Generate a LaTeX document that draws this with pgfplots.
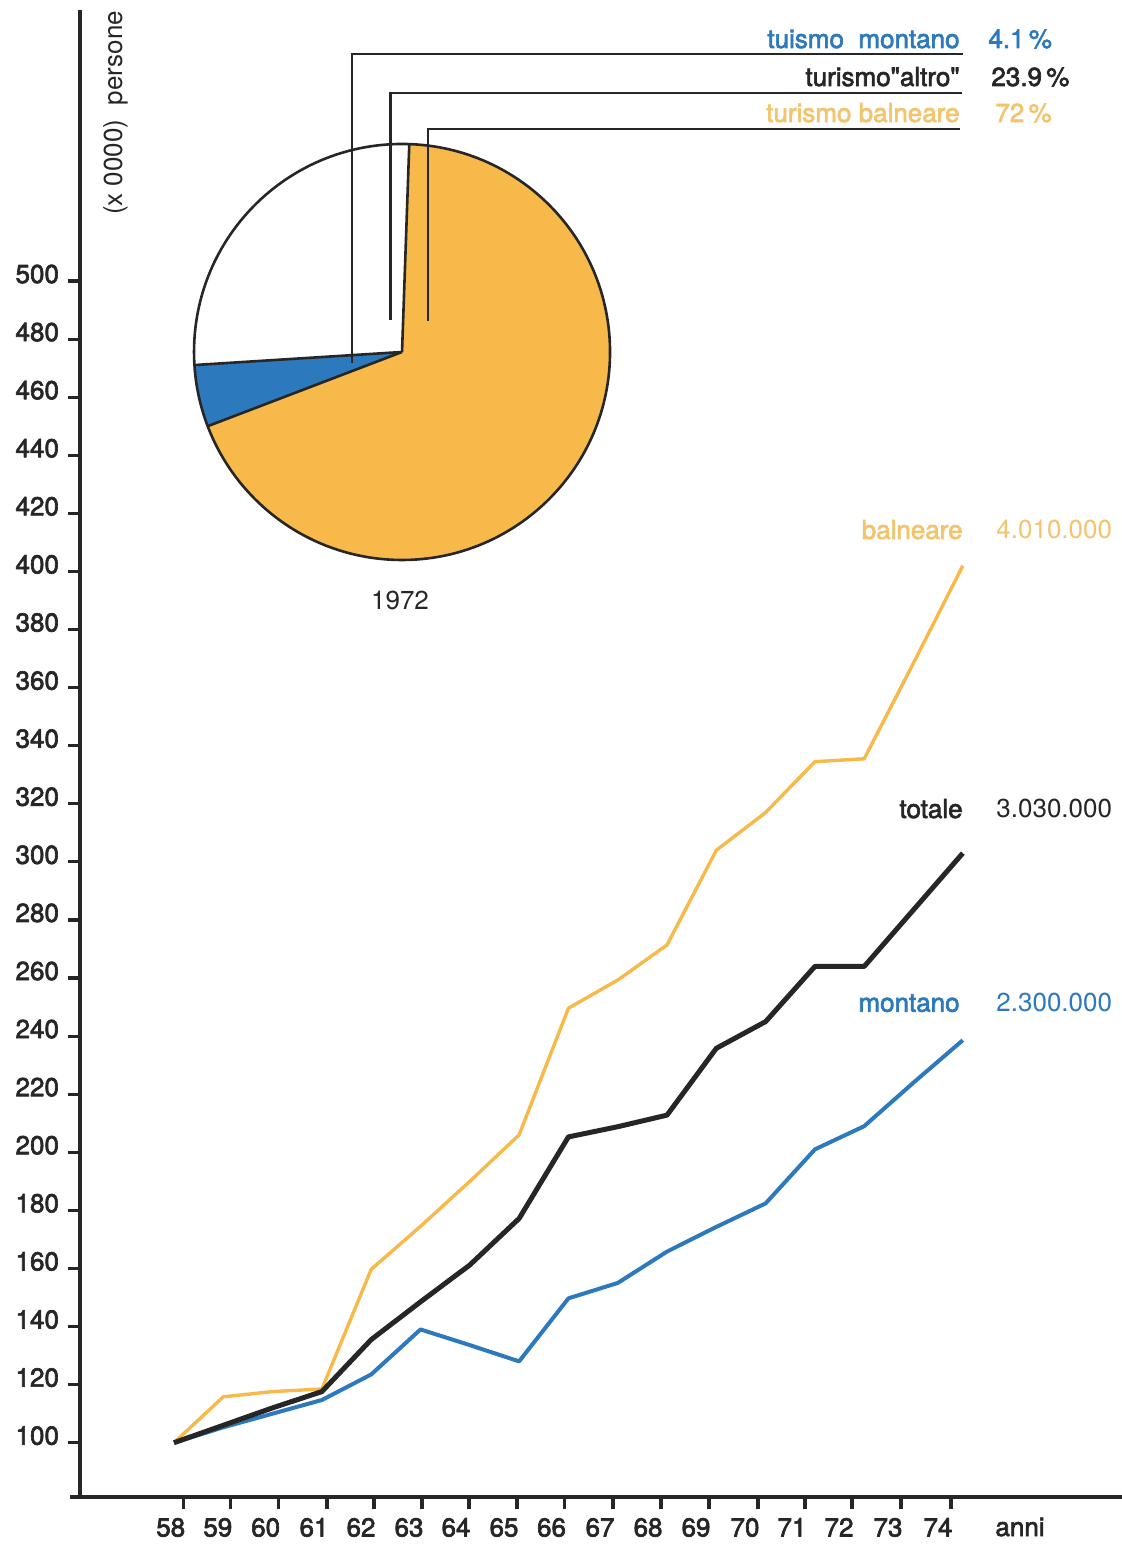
\documentclass[border=0pt]{standalone}
\usepackage{fontspec}
\setmainfont{TeX Gyre Heros}
\newfontfamily\medium[FakeBold=2.5]{TeX Gyre Heros}
\usepackage{pgfplots}
\pgfplotsset{compat=1.18}
\definecolor{orng}{HTML}{F6B94A}
\definecolor{orngtxt}{HTML}{F2C46E}
\definecolor{blu}{HTML}{2C79BD}
\definecolor{blk}{HTML}{262626}
\newcommand\fs{\fontsize{13}{15}\selectfont}
\begin{document}
\fs
\begin{tikzpicture}
\path[use as bounding box] (-40pt,-24.5pt) rectangle (521pt,748.5pt);
\begin{axis}[
  at={(0,0)}, anchor=south west, scale only axis,
  width=521pt, height=743.5pt,
  xmin=56.093, xmax=77.229, ymin=81.30, ymax=593.35,
  axis x line=bottom, axis y line=left,
  axis line style={-, line width=2pt, blk},
  clip=false,
  tick align=outside,
  major tick length=6pt,
  every tick/.style={line width=1.6pt, blk},
  ytick={100,120,...,500},
  xtick={58.197,59.152,60.122,61.103,62.057,63.030,63.984,64.957,65.921,66.905,67.879,68.852,69.846,70.799,71.753,72.746,73.761},
  xticklabels={58,59,60,61,62,63,64,65,66,67,68,69,70,71,72,73,74},
  /pgf/number format/assume math mode=true,
  ticklabel style={font=\medium\fs, text=blk},
  yticklabel style={anchor=base east, yshift=-1pt},
  xticklabel style={xshift=-6.5pt},
  line join=round,
]
% pie (1972): turismo balneare 72, montano 4.1, altro 23.9 (angles as drawn)
\fill[orng] (axis cs:62.625,475.58) -- ++(88:104pt) arc[start angle=88, end angle=-159.1, radius=104pt] -- cycle;
\fill[blu] (axis cs:62.625,475.58) -- ++(200.9:104pt) arc[start angle=200.9, end angle=183.6, radius=104pt] -- cycle;
\draw[blk, line width=1.3pt] (axis cs:62.625,475.58) circle[radius=104pt];
\draw[blk, line width=1.3pt] (axis cs:62.625,475.58) -- ++(88:104pt)
  (axis cs:62.625,475.58) -- ++(183.6:104pt)
  (axis cs:62.625,475.58) -- ++(200.9:104pt);

\addplot[orng, line width=1.7pt] coordinates {(58,100)(59,115.8)(60,117.6)(61,118.5)(62,159.7)(63,174.5)(64,190)(65,206)(66,249.6)(67,259.3)(68,271.4)(69,304)(70,317)(71,334.5)(72,335.5)(73,368.5)(74,402)};
\addplot[blu, line width=2pt] coordinates {(58,100)(59,105.3)(60,110)(61,114.7)(62,123.5)(63,139)(64,133.6)(65,128)(66,149.7)(67,155)(68,165.8)(69,174.3)(70,182.4)(71,201)(72,209)(73,224)(74,238.6)};
\addplot[blk, line width=2.5pt] coordinates {(58,100)(59,106)(60,112)(61,117.6)(62,135.5)(63,148.5)(64,161.2)(65,177.2)(66,205.3)(67,208.8)(68,212.8)(69,235.8)(70,245)(71,264)(72,264)(73,283.5)(74,303)};
\end{axis}
\begin{scope}[x=0.5pt, y=-0.5pt, shift={(-40pt,748.5pt)}]
  % x-axis overhang to the left
  \draw[blk, line width=2pt] (70,1497) -- (81,1497);
  % leader lines
  \draw[blk, line width=1.2pt] (351.7,363) -- (351.7,54) -- (963,54);
  \draw[blk, line width=1.2pt] (390.5,320) -- (390.5,93) -- (962,93);
  \draw[blk, line width=1.2pt] (428,321) -- (428,129) -- (960,129);
  % pie legend labels
  \node[anchor=base east, inner sep=0, text=blu] at (960,48) {\medium tuismo\ \ montano};
  \node[anchor=base west, inner sep=0, text=blu] at (988,48) {\medium 4.1\,\%};
  \node[anchor=base east, inner sep=0, text=blk] at (960,86) {\medium turismo"altro"};
  \node[anchor=base west, inner sep=0, text=blk] at (991,86) {\medium 23.9\,\%};
  \node[anchor=base east, inner sep=0, text=orngtxt] at (960,122) {\medium turismo balneare};
  \node[anchor=base west, inner sep=0, text=orngtxt] at (995,122) {\medium 72\,\%};
  % pie year
  \node[anchor=base, inner sep=0, text=blk] at (400,610) {1972};
  % series end labels
  \node[anchor=base east, inner sep=0, text=orngtxt] at (963,539) {\medium balneare};
  \node[anchor=base west, inner sep=0, text=orngtxt] at (996,539) {4.010.000};
  \node[anchor=base east, inner sep=0, text=blk] at (963,818) {\medium totale};
  \node[anchor=base west, inner sep=0, text=blk] at (996,818) {3.030.000};
  \node[anchor=base east, inner sep=0, text=blu] at (960,1011.7) {\medium montano};
  \node[anchor=base west, inner sep=0, text=blu] at (996,1011.7) {2.300.000};
  % axis labels
  \node[rotate=90, inner sep=0, text=blk] at (116,113) {(x 0000)\ \ persone};
  \node[anchor=base, inner sep=0, text=blk] at (1020,1536) {\medium anni};
\end{scope}
\end{tikzpicture}
\end{document}
